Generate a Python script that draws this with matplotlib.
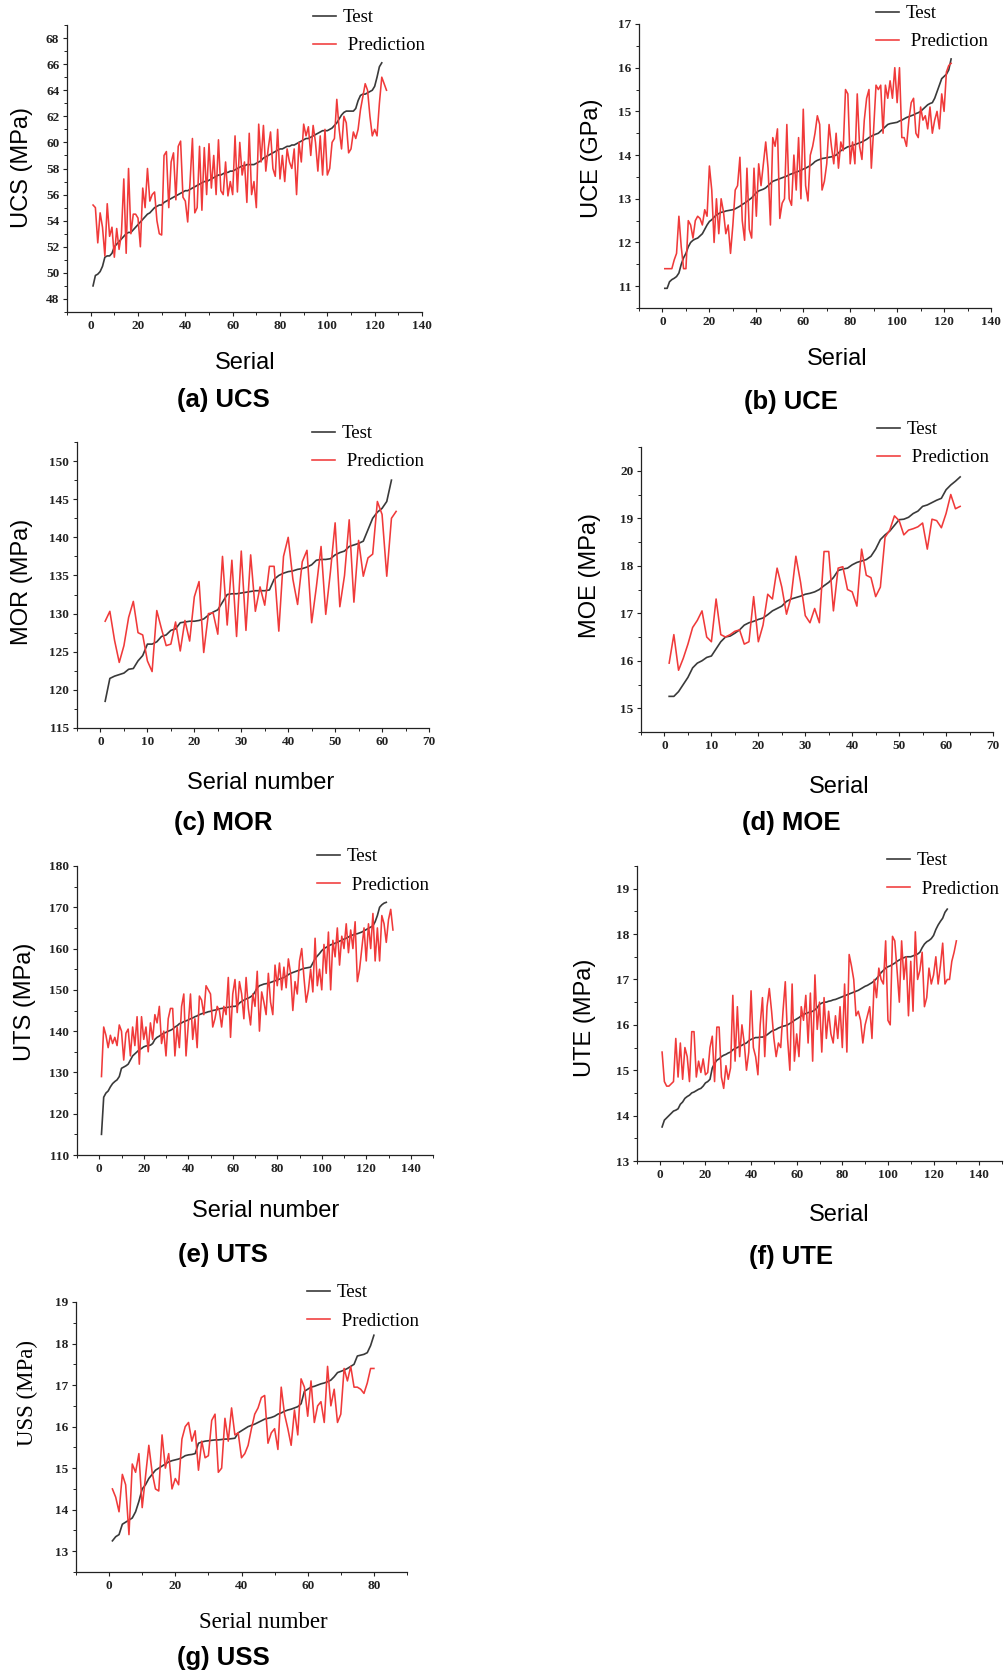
import matplotlib
matplotlib.use("Agg")
import matplotlib.pyplot as plt
from matplotlib.ticker import MultipleLocator

W, H = 1005, 1675
TEST_COLOR = "#3a3a3a"
PRED_COLOR = "#f03a3a"

# ---- data ----
ucs_test = [
    49.0, 49.8, 49.9, 50.1, 50.5, 51.2, 51.3, 51.3, 51.5, 52.0,
    52.2, 52.4, 52.6, 52.8, 53.0, 53.1, 53.1, 53.3, 53.5, 53.7,
    53.9, 54.1, 54.3, 54.5, 54.6, 54.8, 55.0, 55.1, 55.2, 55.2,
    55.4, 55.5, 55.6, 55.7, 55.8, 55.9, 56.0, 56.1, 56.2, 56.3,
    56.3, 56.4, 56.5, 56.6, 56.7, 56.8, 56.9, 57.0, 57.0, 57.1,
    57.2, 57.3, 57.4, 57.5, 57.5, 57.6, 57.7, 57.7, 57.8, 57.8,
    57.9, 58.0, 58.1, 58.2, 58.2, 58.3, 58.3, 58.3, 58.3, 58.4,
    58.5, 58.6, 58.8, 58.9, 59.0, 59.1, 59.2, 59.3, 59.4, 59.5,
    59.5, 59.6, 59.7, 59.7, 59.8, 59.8, 59.9, 60.0, 60.1, 60.2,
    60.3, 60.3, 60.4, 60.5, 60.6, 60.7, 60.8, 60.9, 60.9, 60.9,
    61.0, 61.1, 61.3, 61.5, 61.8, 62.1, 62.3, 62.4, 62.4, 62.4,
    62.4, 62.6, 63.2, 63.6, 63.7, 63.7, 63.8, 63.9, 64.0, 64.3,
    65.0, 65.8, 66.1,
]
ucs_pred = [
    55.2, 55.0, 52.3, 54.6, 53.5, 51.3, 55.3, 52.8, 53.5, 51.2,
    53.4, 51.8, 53.0, 57.2, 51.5, 58.0, 53.0, 54.5, 54.5, 54.2,
    52.0, 56.5, 55.0, 58.0, 55.5, 56.0, 56.2, 54.0, 53.0, 52.9,
    59.0, 59.3, 55.0, 58.5, 59.2, 55.6, 59.7, 60.1, 55.8, 55.5,
    53.9, 57.0, 60.3, 54.6, 55.0, 59.7, 54.8, 59.6, 56.0, 59.9,
    56.5, 59.0, 56.0, 60.2, 56.3, 56.0, 58.5, 55.9, 57.0, 56.0,
    60.5, 56.2, 60.0, 57.5, 58.5, 55.4, 60.7, 56.0, 57.0, 55.0,
    61.4, 58.5, 61.3, 57.8, 59.5, 60.8, 58.0, 57.4, 61.0, 57.2,
    59.0, 57.0, 59.5, 58.5, 58.0, 59.5, 56.0, 60.0, 58.5, 61.4,
    60.5, 61.2, 59.0, 61.3, 60.0, 57.8, 60.5, 57.5, 61.0, 57.5,
    58.0, 60.0, 60.3, 63.3, 61.0, 59.5, 62.0, 61.5, 59.2, 59.5,
    60.8, 60.3, 61.0, 62.5, 63.5, 64.5, 64.0, 62.0, 60.5, 61.0,
    60.5, 63.0, 65.0, 64.5, 64.0,
]

uce_test = [
    10.95, 10.95, 11.1, 11.15, 11.18, 11.22, 11.3, 11.5, 11.65, 11.75,
    11.9, 12.0, 12.05, 12.08, 12.1, 12.15, 12.2, 12.3, 12.4, 12.48,
    12.52, 12.58, 12.63, 12.66, 12.69, 12.7, 12.72, 12.73, 12.74, 12.75,
    12.77, 12.8, 12.83, 12.87, 12.9, 12.94, 12.98, 13.02, 13.08, 13.14,
    13.18, 13.2, 13.22, 13.25, 13.3, 13.35, 13.4, 13.42, 13.44, 13.46,
    13.48, 13.5, 13.52, 13.55, 13.57, 13.59, 13.61, 13.63, 13.65, 13.68,
    13.7, 13.73, 13.76, 13.8, 13.85, 13.88, 13.9, 13.92, 13.93, 13.94,
    13.95, 13.96, 13.98, 14.0, 14.05, 14.1, 14.13, 14.16, 14.19, 14.2,
    14.22, 14.24, 14.26, 14.28, 14.3, 14.33, 14.36, 14.4, 14.43, 14.46,
    14.48, 14.5, 14.55, 14.6, 14.65, 14.7, 14.72, 14.73, 14.74, 14.75,
    14.78, 14.8, 14.83, 14.86, 14.88, 14.9, 14.92, 14.95, 14.97, 15.0,
    15.05, 15.1, 15.15, 15.18, 15.2, 15.3, 15.45, 15.6, 15.75, 15.8,
    15.85, 15.95, 16.2,
]
uce_pred = [
    11.4, 11.4, 11.4, 11.4, 11.6, 11.75, 12.6, 11.9, 11.4, 11.4,
    12.5, 12.4, 12.1, 12.5, 12.6, 12.55, 12.4, 12.75, 12.6, 13.75,
    13.2, 12.0, 13.0, 12.2, 13.0, 12.7, 12.2, 12.4, 11.75, 12.4,
    13.2, 13.3, 13.95, 12.5, 12.05, 13.7, 12.3, 12.1, 13.7, 12.6,
    13.8, 13.3, 13.8, 14.3, 13.7, 12.4, 14.4, 14.2, 14.6, 12.55,
    12.9, 13.0, 14.7, 13.0, 12.85, 14.0, 13.2, 14.4, 13.0, 15.05,
    13.3, 12.95, 14.0, 14.2, 14.5, 14.9, 14.7, 13.2, 13.4, 13.8,
    14.7, 14.2, 13.8, 14.5, 13.7, 14.3, 14.1, 15.5, 15.4, 13.8,
    14.3, 13.8, 15.4, 14.2, 13.9, 14.8, 15.3, 15.5, 13.7, 14.6,
    15.6, 15.5, 15.6, 14.5, 15.6, 15.3, 15.7, 15.3, 16.0, 15.2,
    16.0, 14.4, 14.4, 14.2, 14.8, 15.2, 15.3, 14.5, 14.4, 15.1,
    14.8, 14.9, 14.6, 15.1, 14.5, 14.8, 15.0, 14.6, 15.4, 15.0,
    15.9, 16.05, 16.1,
]

mor_test = [
    118.5, 121.5, 121.8, 122.0, 122.2, 122.7, 122.8, 123.8, 124.5, 126.0,
    126.0, 126.3, 127.0, 127.2, 127.8, 128.0, 128.8, 128.9, 129.0, 129.0,
    129.1, 129.3, 129.8, 130.2, 130.5, 131.5, 132.5, 132.6, 132.6, 132.7,
    132.8, 132.9, 133.0, 133.0, 133.0, 133.1, 134.5, 135.0, 135.3, 135.5,
    135.6, 135.8, 135.9, 136.1, 136.4, 137.0, 137.1, 137.1, 137.2, 137.7,
    138.0, 138.2, 138.8, 139.0, 139.2, 139.5, 141.0, 142.5, 143.3, 143.8,
    144.7, 147.5,
]
mor_pred = [
    129.0, 130.3, 126.5, 123.6, 125.8, 129.5, 131.6, 127.5, 127.2, 123.8,
    122.4, 130.4, 128.0, 125.8, 126.0, 128.9, 125.1, 129.1, 126.4, 132.2,
    134.2, 124.9, 130.0, 130.1, 127.3, 137.5, 128.5, 137.0, 127.0, 138.2,
    127.8, 137.7, 130.3, 133.5, 131.1, 136.2, 136.2, 127.7, 137.5, 140.0,
    134.5, 131.2, 136.8, 138.3, 128.8, 133.5, 138.8, 129.9, 135.5, 141.9,
    130.9, 135.0, 142.3, 131.5, 139.6, 134.9, 137.3, 137.8, 144.7, 143.0,
    134.9, 142.5, 143.4,
]

moe_test = [
    15.25, 15.25, 15.35, 15.5, 15.65, 15.85, 15.95, 16.0, 16.07, 16.1,
    16.25, 16.4, 16.5, 16.52, 16.58, 16.65, 16.75, 16.8, 16.83, 16.87,
    16.9, 16.97, 17.05, 17.1, 17.15, 17.25, 17.3, 17.33, 17.36, 17.4,
    17.42, 17.45, 17.5, 17.58, 17.65, 17.75, 17.9, 17.93, 17.95, 18.02,
    18.07, 18.1, 18.13, 18.2, 18.35, 18.55, 18.65, 18.73, 18.85, 18.97,
    18.98, 19.02, 19.1, 19.15, 19.25, 19.28, 19.33, 19.38, 19.42, 19.6,
    19.7, 19.78, 19.87,
]
moe_pred = [
    15.95, 16.55, 15.8, 16.05, 16.35, 16.7, 16.85, 17.05, 16.5, 16.4,
    17.3, 16.55, 16.5, 16.55, 16.62, 16.65, 16.35, 16.4, 17.35, 16.4,
    16.75, 17.4, 17.3, 17.95, 17.55, 16.98, 17.35, 18.2, 17.65, 16.95,
    16.8, 17.1, 16.8, 18.3, 18.3, 17.05, 17.95, 17.98, 17.5, 17.45,
    17.15, 18.35, 17.8, 17.75, 17.35, 17.55, 18.6, 18.75, 19.05, 18.95,
    18.65, 18.75, 18.78, 18.82, 18.9, 18.35, 18.98, 18.95, 18.8, 19.1,
    19.5, 19.2, 19.25,
]

uts_test = [
    115.0, 124.0, 125.0, 125.5, 126.5, 127.3, 127.8, 128.2, 129.0, 131.0,
    131.3, 131.6, 132.0, 133.0, 134.0, 134.5, 135.0, 135.5, 135.8, 136.2,
    136.4, 136.5, 136.6, 137.0, 138.0, 138.5, 138.8, 139.2, 139.5, 139.7,
    140.0, 140.2, 140.5, 141.0, 141.3, 141.8, 142.0, 142.3, 142.5, 142.7,
    143.0, 143.2, 143.5, 143.7, 144.0, 144.2, 144.4, 144.5, 144.7, 144.8,
    145.0, 145.1, 145.2, 145.4, 145.5, 145.6, 145.7, 145.8, 145.9, 146.0,
    146.0, 146.2, 146.8, 147.2, 147.5, 147.8, 148.0, 148.3, 148.7, 149.5,
    150.5, 151.0, 151.2, 151.4, 151.5, 151.6, 151.8, 152.0, 152.2, 152.4,
    152.6, 152.8, 153.0, 153.3, 153.7, 154.0, 154.2, 154.4, 154.6, 154.8,
    155.0, 155.2, 155.3, 155.4, 155.5, 156.5, 157.5, 158.2, 158.8, 159.5,
    160.0, 160.3, 160.6, 160.9, 161.1, 161.3, 161.5, 161.8, 162.0, 162.3,
    162.5, 162.8, 163.1, 163.3, 163.5, 163.6, 163.8, 164.0, 164.3, 164.6,
    164.9, 165.2, 165.5, 166.5, 168.0, 170.0, 170.6, 171.0, 171.2,
]
uts_pred = [
    129, 141, 139, 136, 139, 137, 138.5, 136.5, 141.5, 140,
    133, 139.5, 140.5, 134, 141, 136.5, 143.5, 132, 143.5, 138,
    141, 135, 142, 138, 144, 142, 146, 137, 140, 134,
    143, 145.5, 145.5, 134, 141, 136, 146, 149, 134, 141.5,
    149, 138, 143, 136, 148.5, 147.5, 144, 151, 150, 149,
    141, 143, 146, 145, 141, 146, 144, 153, 138.5, 149,
    152.5, 144.5, 152, 149, 143, 153, 145.5, 141.5, 149, 146,
    154.5, 140, 149.5, 147, 144, 154, 147, 144, 156, 151,
    156.5, 150, 155.5, 150.5, 157.5, 154, 145, 152, 149, 157,
    160, 153, 147, 150, 155, 149.5, 162.5, 151, 155, 150,
    161, 154, 164, 150, 162, 158, 165, 156, 163, 160,
    166, 159, 164.5, 160, 166.5, 152, 155, 160, 165, 157,
    166, 160, 168.5, 157, 165, 157, 168, 166, 161.5, 167,
    169.5, 164.5,
]

ute_test = [
    13.75, 13.9, 13.95, 14.0, 14.05, 14.1, 14.12, 14.15, 14.25, 14.3,
    14.38, 14.42, 14.45, 14.5, 14.52, 14.55, 14.58, 14.6, 14.65, 14.72,
    14.75, 14.8, 15.05, 15.15, 15.22, 15.25, 15.3, 15.33, 15.35, 15.38,
    15.4, 15.45, 15.48, 15.5, 15.53, 15.55, 15.58, 15.6, 15.65, 15.68,
    15.7, 15.72, 15.72, 15.73, 15.73, 15.75, 15.78, 15.82, 15.86, 15.88,
    15.9, 15.93, 15.95, 15.97, 15.98, 16.0, 16.03, 16.06, 16.1, 16.13,
    16.16, 16.2, 16.23, 16.25, 16.27, 16.28, 16.3, 16.33, 16.38, 16.45,
    16.48, 16.5, 16.5, 16.52, 16.53, 16.55, 16.56, 16.58, 16.6, 16.62,
    16.64, 16.66, 16.68, 16.7, 16.72, 16.74, 16.76, 16.79, 16.82, 16.85,
    16.87, 16.9, 16.93, 16.97, 17.02, 17.08, 17.15, 17.2, 17.25, 17.28,
    17.3, 17.33, 17.36, 17.4, 17.43, 17.46, 17.48, 17.5, 17.5, 17.5,
    17.52, 17.54, 17.56, 17.6, 17.7, 17.78, 17.83, 17.86, 17.9, 17.97,
    18.1, 18.2, 18.28, 18.35, 18.48, 18.55,
]
ute_pred = [
    15.4, 14.75, 14.65, 14.65, 14.7, 14.75, 15.7, 14.85, 15.6, 14.8,
    15.5, 15.3, 14.75, 15.85, 15.85, 14.85, 15.2, 14.95, 15.25, 14.9,
    14.95, 15.5, 15.75, 14.75, 15.95, 15.95, 14.85, 14.6, 15.1, 14.8,
    15.05, 16.65, 15.2, 16.4, 15.3, 16.0, 15.6, 15.0, 15.4, 16.75,
    15.5, 15.3, 14.9, 16.0, 16.6, 15.3, 16.4, 16.8, 16.3, 15.7,
    15.3, 15.6, 15.5, 16.3, 16.95, 15.7, 15.0, 16.9, 15.2, 15.8,
    15.3, 16.4, 16.1, 16.65, 15.6, 16.7, 15.2, 17.1, 15.9, 16.5,
    15.4, 16.6, 15.7, 16.3, 15.8, 15.6, 16.2, 15.7, 16.4, 15.5,
    16.9, 15.4, 17.55, 17.3, 17.0, 16.2, 16.3, 16.1, 15.6, 16.0,
    16.2, 16.4, 15.7, 17.0, 16.6, 17.25, 17.0, 16.9, 17.85, 16.1,
    16.0, 17.95, 17.85, 17.2, 16.5, 17.85, 17.0, 17.5, 16.2, 17.4,
    16.3, 18.05, 17.0, 17.2, 17.6, 16.4, 16.6, 17.25, 16.9, 17.1,
    17.5, 16.9, 17.3, 17.8, 16.9, 17.0, 17.0, 17.4, 17.6, 17.85,
]

uss_test = [
    13.25, 13.35, 13.4, 13.65, 13.7, 13.75, 13.8, 13.95, 14.2, 14.5,
    14.6, 14.75, 14.85, 14.95, 15.0, 15.05, 15.1, 15.15, 15.18, 15.2,
    15.22, 15.25, 15.3, 15.32, 15.33, 15.35, 15.6, 15.63, 15.65, 15.66,
    15.67, 15.68, 15.68, 15.69, 15.7, 15.7, 15.71, 15.72, 15.85, 15.9,
    15.95, 16.0, 16.03, 16.06, 16.1, 16.14, 16.18, 16.2, 16.22, 16.25,
    16.3, 16.33, 16.37, 16.4, 16.42, 16.45, 16.48, 16.55, 16.85, 16.9,
    16.95, 16.97, 17.0, 17.03, 17.05, 17.08, 17.12, 17.2, 17.3, 17.33,
    17.36, 17.4, 17.45, 17.5, 17.7, 17.72, 17.74, 17.78, 17.95, 18.2,
]
uss_pred = [
    14.5, 14.3, 13.95, 14.85, 14.6, 13.4, 15.1, 14.9, 15.35, 14.05,
    14.8, 15.55, 14.9, 14.5, 14.45, 15.8, 15.0, 15.35, 14.5, 14.75,
    14.6, 15.7, 16.0, 16.1, 15.65, 15.9, 14.95, 15.65, 15.25, 15.3,
    16.15, 16.3, 14.9, 15.0, 16.2, 15.65, 16.45, 15.8, 15.85, 15.25,
    15.35, 15.55, 15.95, 16.3, 16.45, 16.7, 16.75, 15.6, 15.85, 15.95,
    15.45, 16.95, 16.3, 15.95, 15.55, 16.4, 15.8, 17.15, 16.95, 16.25,
    17.1, 16.1, 16.5, 16.6, 16.1, 17.45, 16.5, 16.9, 16.1, 16.3,
    17.4, 17.1, 17.45, 16.95, 16.95, 16.9, 16.8, 17.05, 17.4, 17.4,
]


def fx(x):
    return x / W


def fy(y):
    return 1 - y / H


SANS = "Liberation Sans"
SERIF = "Liberation Serif"


def draw_panel(fig, p):
    left, top, right, bottom = p["box"]
    ax = fig.add_axes([fx(left), fy(bottom), (right - left) / W, (bottom - top) / H])
    test, pred = p["test"], p["pred"]
    ax.plot(range(1, len(test) + 1), test, color=TEST_COLOR, lw=1.2, label="Test")
    ax.plot(range(1, len(pred) + 1), pred, color=PRED_COLOR, lw=1.15, label=" Prediction")
    ax.set_xlim(*p["xlim"])
    ax.set_ylim(*p["ylim"])
    ax.xaxis.set_major_locator(MultipleLocator(p["xmaj"]))
    ax.xaxis.set_minor_locator(MultipleLocator(p["xmaj"] / 2))
    ax.yaxis.set_major_locator(MultipleLocator(p["ymaj"]))
    ax.yaxis.set_minor_locator(MultipleLocator(p["ymaj"] / 2))
    for s in ("top", "right"):
        ax.spines[s].set_visible(False)
    for s in ("left", "bottom"):
        ax.spines[s].set_linewidth(0.9)
        ax.spines[s].set_color("#222222")
    ax.tick_params(which="major", direction="out", length=3, width=0.8, pad=2.5,
                   labelsize=9.5, colors="#222222")
    ax.tick_params(which="minor", direction="out", length=2, width=0.7, colors="#222222")
    for lab in ax.get_xticklabels() + ax.get_yticklabels():
        lab.set_fontfamily(SERIF)
        lab.set_fontweight("bold")

    lx, ly = p["legend"]
    ax.legend(loc="upper left", bbox_to_anchor=(fx(lx), fy(ly - 6)),
              bbox_transform=fig.transFigure, frameon=False, borderpad=0,
              borderaxespad=0, handlelength=1.2, handletextpad=0.4,
              labelspacing=0.6, prop={"family": SERIF, "size": 13.5})

    fam = p.get("label_font", SANS)
    size = 16.5 if fam == SERIF else 17
    yx, yy = p["ylabel_xy"]
    fig.text(fx(yx), fy(yy), p["ylabel"], rotation=90, ha="center", va="center",
             family=fam, size=size)
    xx, xy = p["xlabel_xy"]
    fig.text(fx(xx), fy(xy), p["xlabel"], ha="center", va="center", family=fam, size=size)
    tx, ty = p["title_xy"]
    fig.text(fx(tx), fy(ty), p["title"], ha="center", va="center", family=SANS,
             weight="bold", size=18.5)
    return ax


panels = [
    dict(test=ucs_test, pred=ucs_pred, box=(67, 25, 422, 312), xlim=(-10, 140), ylim=(47, 69),
         xmaj=20, ymaj=2, ylabel="UCS (MPa)", xlabel="Serial", title="(a) UCS",
         ylabel_xy=(22, 168), xlabel_xy=(245, 363), title_xy=(223, 400), legend=(313, 15)),
    dict(test=uce_test, pred=uce_pred, box=(639, 24, 991, 308), xlim=(-10, 140), ylim=(10.5, 17),
         xmaj=20, ymaj=1, ylabel="UCE (GPa)", xlabel="Serial", title="(b) UCE",
         ylabel_xy=(592, 158), xlabel_xy=(837, 359), title_xy=(791, 402), legend=(876, 11)),
    dict(test=mor_test, pred=mor_pred, box=(77, 442, 429, 728), xlim=(-5, 70), ylim=(115, 152.5),
         xmaj=10, ymaj=5, ylabel="MOR (MPa)", xlabel="Serial number", title="(c) MOR",
         ylabel_xy=(22, 582), xlabel_xy=(261, 783), title_xy=(223, 823), legend=(312, 431)),
    dict(test=moe_test, pred=moe_pred, box=(641, 447, 993, 732), xlim=(-5, 70), ylim=(14.5, 20.5),
         xmaj=10, ymaj=1, ylabel="MOE (MPa)", xlabel="Serial", title="(d) MOE",
         ylabel_xy=(590, 575), xlabel_xy=(839, 787), title_xy=(791, 823), legend=(877, 427)),
    dict(test=uts_test, pred=uts_pred, box=(77, 866, 433, 1155), xlim=(-10, 150), ylim=(110, 180),
         xmaj=20, ymaj=10, ylabel="UTS (MPa)", xlabel="Serial number", title="(e) UTS",
         ylabel_xy=(25, 1002), xlabel_xy=(266, 1211), title_xy=(223, 1255), legend=(317, 854)),
    dict(test=ute_test, pred=ute_pred, box=(637, 866, 1002, 1161), xlim=(-10, 150), ylim=(13, 19.5),
         xmaj=20, ymaj=1, ylabel="UTE (MPa)", xlabel="Serial", title="(f) UTE",
         ylabel_xy=(585, 1018), xlabel_xy=(839, 1215), title_xy=(791, 1257), legend=(887, 858)),
    dict(test=uss_test, pred=uss_pred, box=(76, 1302, 407, 1572), xlim=(-10, 90), ylim=(12.5, 19),
         xmaj=20, ymaj=1, ylabel="USS (MPa)", xlabel="Serial number", title="(g) USS",
         ylabel_xy=(27, 1393), xlabel_xy=(263, 1623), title_xy=(223, 1658), legend=(307, 1290),
         label_font=SERIF),
]

fig = plt.figure(figsize=(W / 100, H / 100), dpi=100)
fig.patch.set_facecolor("white")
for p in panels:
    draw_panel(fig, p)

fig.savefig("out.png", dpi=100)
